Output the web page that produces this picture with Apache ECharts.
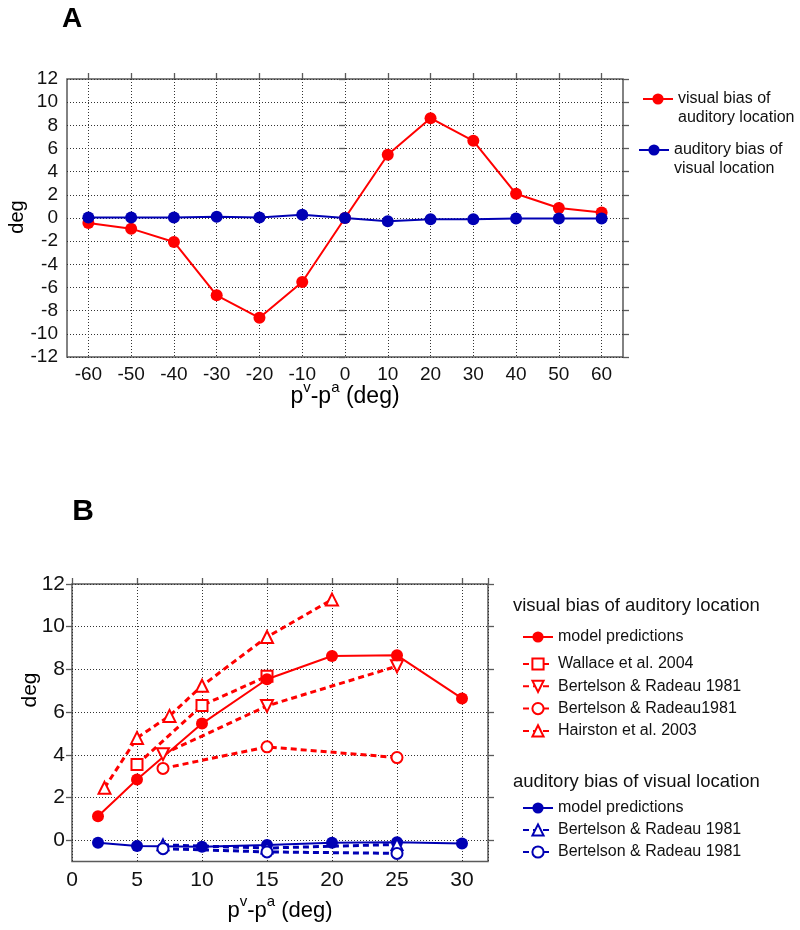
<!DOCTYPE html>
<html><head><meta charset="utf-8">
<script src="https://cdn.jsdelivr.net/npm/echarts@6/dist/echarts.min.js"></script>
<style>html,body{margin:0;padding:0;background:#fff}#c{width:800px;height:930px}</style>
</head><body><div id="c"></div>
<script>
// ---------- Panel A data ----------
const offsetsA = [-60, -50, -40, -30, -20, -10, 0, 10, 20, 30, 40, 50, 60];
const visualBiasA = [-0.43, -0.92, -2.07, -6.67, -8.62, -5.52, 0, 5.46, 8.62, 6.66, 2.09, 0.86, 0.48];
const auditoryBiasA = [0.05, 0.05, 0.05, 0.1, 0.05, 0.28, 0, -0.29, -0.1, -0.1, -0.05, -0.05, -0.05];

// ---------- Panel B data ----------
const modelX = [2, 5, 10, 15, 20, 25, 30];
const modelVisualB = [1.12, 2.84, 5.46, 7.54, 8.63, 8.66, 6.64];
const modelAuditoryB = [-0.12, -0.27, -0.31, -0.23, -0.12, -0.1, -0.16];
const wallaceX = [5, 10, 15];
const wallaceB = [3.54, 6.31, 7.68];
const bertDownX = [7, 15, 25];
const bertDownB = [4.03, 6.29, 8.15];
const bertCircX = [7, 15, 25];
const bertCircB = [3.36, 4.37, 3.87];
const hairstonX = [2.5, 5, 7.5, 10, 15, 20];
const hairstonB = [2.45, 4.79, 5.82, 7.23, 9.52, 11.27];
const bertUpBlueX = [7, 15, 25];
const bertUpBlueB = [-0.22, -0.37, -0.2];
const bertCircBlueX = [7, 15, 25];
const bertCircBlueB = [-0.4, -0.55, -0.62];

const RED = '#ff0000';
const BLUE = '#0000b4';
const FONT = 'Liberation Sans, Arial, sans-serif';
const GRIDC = '#333';
const BORDER = '#5a5a5a';

const pairs = (xs, ys) => xs.map((x, i) => [x, ys[i]]);
const split = {show: true, lineStyle: {type: [1, 2], color: GRIDC, width: 1}};
const noSplit = {show: false};
const tickOut = {show: true, inside: false, length: 6, lineStyle: {color: BORDER, width: 1.3}};

const chart = echarts.init(document.getElementById('c'), null, {renderer: 'canvas'});

const option = {
  animation: false,
  backgroundColor: '#fff',
  textStyle: {fontFamily: FONT},
  grid: [
    {left: 67, top: 79, width: 556, height: 278, show: true, borderColor: BORDER, borderWidth: 1.5, backgroundColor: 'transparent'},
    {left: 88.4, top: 79, width: 513.2, height: 278, show: false},
    {left: 72, top: 584, width: 416, height: 277.5, show: true, borderColor: BORDER, borderWidth: 1.5, backgroundColor: 'transparent'},
    {left: 72, top: 584, width: 416, height: 256.2, show: false}
  ],
  xAxis: [
    {gridIndex: 0, type: 'value', min: -65, max: 65, show: false},
    {gridIndex: 1, type: 'value', min: -60, max: 60, interval: 10, position: 'bottom',
      axisLine: {show: false}, axisTick: {show: false}, splitLine: split,
      axisLabel: {fontSize: 19, color: '#111', margin: 8, fontFamily: FONT}},
    {gridIndex: 1, type: 'value', min: -60, max: 60, interval: 10, position: 'top',
      axisLine: {show: false}, axisTick: tickOut, splitLine: noSplit, axisLabel: {show: false}},
    {gridIndex: 2, type: 'value', min: 0, max: 32, interval: 5, position: 'bottom',
      axisLine: {show: false}, axisTick: {show: false}, splitLine: split,
      axisLabel: {fontSize: 21, color: '#111', margin: 8, fontFamily: FONT,
        formatter: v => (v % 5 === 0 ? String(v) : '')}},
    {gridIndex: 2, type: 'value', min: 0, max: 32, interval: 5, position: 'top',
      axisLine: {show: false}, axisTick: tickOut, splitLine: noSplit, axisLabel: {show: false}},
    {gridIndex: 3, type: 'value', min: 0, max: 32, show: false}
  ],
  yAxis: [
    {gridIndex: 0, type: 'value', min: -12, max: 12, interval: 2,
      axisLine: {show: false}, axisTick: tickOut, splitLine: split,
      axisLabel: {fontSize: 19, color: '#111', margin: 9, fontFamily: FONT}},
    {gridIndex: 0, type: 'value', min: -12, max: 12, interval: 2, position: 'right',
      axisLine: {show: false}, axisTick: tickOut, splitLine: noSplit, axisLabel: {show: false}},
    {gridIndex: 1, type: 'value', min: -12, max: 12, show: false},
    {gridIndex: 2, type: 'value', min: -1, max: 12, show: false},
    {gridIndex: 3, type: 'value', min: 0, max: 12, interval: 2,
      axisLine: {show: false}, axisTick: tickOut, splitLine: split,
      axisLabel: {fontSize: 21, color: '#111', margin: 7, fontFamily: FONT}},
    {gridIndex: 3, type: 'value', min: 0, max: 12, interval: 2, position: 'right',
      axisLine: {show: false}, axisTick: tickOut, splitLine: noSplit, axisLabel: {show: false}}
  ],
  legend: [
    {data: ['visual bias of auditory location'], orient: 'vertical', left: 642, top: 70.5, padding: 0,
      itemWidth: 30, itemHeight: 14, selectedMode: false,
      textStyle: {fontSize: 16, lineHeight: 19, color: '#111', fontFamily: FONT},
      formatter: () => '\nvisual bias of\nauditory location'},
    {data: ['auditory bias of visual location'], orient: 'vertical', left: 638, top: 121.5, padding: 0,
      itemWidth: 30, itemHeight: 14, selectedMode: false,
      textStyle: {fontSize: 16, lineHeight: 19, color: '#111', fontFamily: FONT},
      formatter: () => '\nauditory bias of\nvisual location'},
    {data: ['model predictions'], orient: 'vertical', left: 522, top: 628, padding: 0,
      itemWidth: 30, itemHeight: 14, selectedMode: false,
      textStyle: {fontSize: 16, lineHeight: 18, color: '#111', fontFamily: FONT}},
    {data: ['Wallace et al. 2004', 'Bertelson & Radeau 1981', 'Bertelson & Radeau1981', 'Hairston et al. 2003'],
      orient: 'vertical', left: 522, top: 655, padding: 0, itemGap: 4.3,
      itemWidth: 30, itemHeight: 14, selectedMode: false,
      textStyle: {fontSize: 16, lineHeight: 18, color: '#111', fontFamily: FONT}},
    {data: ['model predictions '], orient: 'vertical', left: 522, top: 799, padding: 0,
      itemWidth: 30, itemHeight: 14, selectedMode: false,
      textStyle: {fontSize: 16, lineHeight: 18, color: '#111', fontFamily: FONT},
      formatter: n => n.replace(/\s+$/, '')},
    {data: ['Bertelson & Radeau 1981 ', 'Bertelson & Radeau 1981  '],
      orient: 'vertical', left: 522, top: 821, padding: 0, itemGap: 4,
      itemWidth: 30, itemHeight: 14, selectedMode: false,
      textStyle: {fontSize: 16, lineHeight: 18, color: '#111', fontFamily: FONT},
      formatter: n => n.replace(/\s+$/, '')}
  ],
  graphic: [
    {type: 'text', x: 72, y: 19, style: {text: 'A', font: 'bold 28px ' + FONT, fill: '#000', align: 'center', verticalAlign: 'middle'}},
    {type: 'text', x: 83, y: 512, style: {text: 'B', font: 'bold 30px ' + FONT, fill: '#000', align: 'center', verticalAlign: 'middle'}},
    {type: 'text', x: 17, y: 217, rotation: Math.PI / 2, style: {text: 'deg', font: '20px ' + FONT, fill: '#000', align: 'center', verticalAlign: 'middle'}},
    {type: 'text', x: 30, y: 690, rotation: Math.PI / 2, style: {text: 'deg', font: '21px ' + FONT, fill: '#000', align: 'center', verticalAlign: 'middle'}},
    {type: 'text', x: 345, y: 394, style: {
      text: '{p|p}{s|v}{p|-p}{s|a}{p| (deg)}', align: 'center', verticalAlign: 'middle',
      rich: {p: {fontSize: 23, fontFamily: FONT, fill: '#000', lineHeight: 28, verticalAlign: 'bottom'},
             s: {fontSize: 15, fontFamily: FONT, fill: '#000', lineHeight: 28, verticalAlign: 'top'}}}},
    {type: 'text', x: 280, y: 908, style: {
      text: '{p|p}{s|v}{p|-p}{s|a}{p| (deg)}', align: 'center', verticalAlign: 'middle',
      rich: {p: {fontSize: 22, fontFamily: FONT, fill: '#000', lineHeight: 27, verticalAlign: 'bottom'},
             s: {fontSize: 15, fontFamily: FONT, fill: '#000', lineHeight: 27, verticalAlign: 'top'}}}},
    {type: 'text', left: 513, top: 596, style: {text: 'visual bias of auditory location', font: '18.5px ' + FONT, fill: '#111'}},
    {type: 'text', left: 513, top: 772, style: {text: 'auditory bias of visual location', font: '18.5px ' + FONT, fill: '#111'}}
  ],
  series: [
    {type: 'line', name: 'visual bias of auditory location', xAxisIndex: 0, yAxisIndex: 0,
      data: pairs(offsetsA, visualBiasA), symbol: 'circle', symbolSize: 12,
      lineStyle: {color: RED, width: 2}, itemStyle: {color: RED}},
    {type: 'line', name: 'auditory bias of visual location', xAxisIndex: 0, yAxisIndex: 0,
      data: pairs(offsetsA, auditoryBiasA), symbol: 'circle', symbolSize: 12,
      lineStyle: {color: BLUE, width: 2}, itemStyle: {color: BLUE}},

    {type: 'line', name: 'Hairston et al. 2003', xAxisIndex: 3, yAxisIndex: 3,
      data: pairs(hairstonX, hairstonB), symbol: 'emptyTriangle', symbolSize: 12,
      lineStyle: {color: RED, width: 3, type: [6, 4]}, itemStyle: {color: RED, borderWidth: 1.6}},
    {type: 'line', name: 'Bertelson & Radeau1981', xAxisIndex: 3, yAxisIndex: 3,
      data: pairs(bertCircX, bertCircB), symbol: 'emptyCircle', symbolSize: 11,
      lineStyle: {color: RED, width: 3, type: [6, 4]}, itemStyle: {color: RED, borderWidth: 1.6}},
    {type: 'line', name: 'Bertelson & Radeau 1981', xAxisIndex: 3, yAxisIndex: 3,
      data: pairs(bertDownX, bertDownB), symbol: 'emptyTriangle', symbolRotate: 180, symbolSize: 12,
      lineStyle: {color: RED, width: 3, type: [6, 4]}, itemStyle: {color: RED, borderWidth: 1.6}},
    {type: 'line', name: 'Wallace et al. 2004', xAxisIndex: 3, yAxisIndex: 3,
      data: pairs(wallaceX, wallaceB), symbol: 'emptyRect', symbolSize: 11,
      lineStyle: {color: RED, width: 3, type: [6, 4]}, itemStyle: {color: RED, borderWidth: 1.6}},
    {type: 'line', name: 'model predictions', xAxisIndex: 3, yAxisIndex: 3,
      data: pairs(modelX, modelVisualB), symbol: 'circle', symbolSize: 12,
      lineStyle: {color: RED, width: 2}, itemStyle: {color: RED}},

    {type: 'line', name: 'model predictions ', xAxisIndex: 3, yAxisIndex: 3,
      data: pairs(modelX, modelAuditoryB), symbol: 'circle', symbolSize: 12,
      lineStyle: {color: BLUE, width: 2}, itemStyle: {color: BLUE}},
    {type: 'line', name: 'Bertelson & Radeau 1981 ', xAxisIndex: 3, yAxisIndex: 3,
      data: pairs(bertUpBlueX, bertUpBlueB), symbol: 'emptyTriangle', symbolSize: 11,
      lineStyle: {color: BLUE, width: 3, type: [6, 4]}, itemStyle: {color: BLUE, borderWidth: 1.6}},
    {type: 'line', name: 'Bertelson & Radeau 1981  ', xAxisIndex: 3, yAxisIndex: 3,
      data: pairs(bertCircBlueX, bertCircBlueB), symbol: 'emptyCircle', symbolSize: 11,
      lineStyle: {color: BLUE, width: 3, type: [6, 4]}, itemStyle: {color: BLUE, borderWidth: 1.6}}
  ]
};
chart.setOption(option);
</script>
</body></html>
